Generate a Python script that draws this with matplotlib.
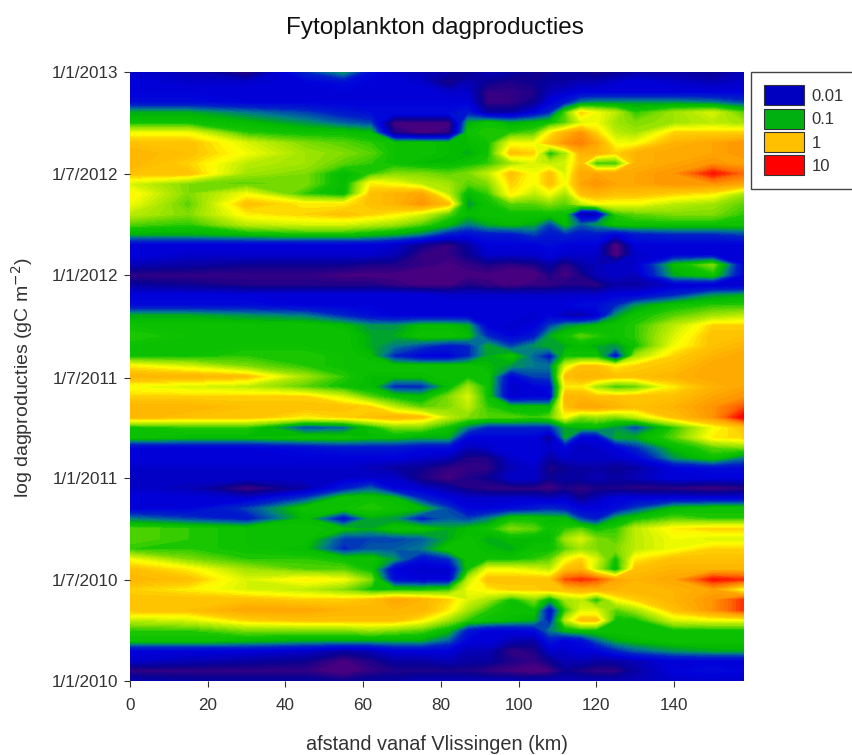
import numpy as np
import matplotlib
matplotlib.use('Agg')
import matplotlib.pyplot as plt
import matplotlib.dates as mdates
from datetime import date
from matplotlib.colors import LinearSegmentedColormap
from matplotlib.patches import Patch

plt.rcParams['font.family'] = ['Liberation Sans', 'DejaVu Sans']

afstand_km = [0, 15, 30, 45, 55, 62, 68, 75, 82, 87, 92, 98, 104, 108, 112, 116, 120, 125, 130, 140, 150, 158]

# log10 dagproductie, one row per sampling time, newest (top of plot) first
log_prod = [
    [-2.1,-2.2,-2.6,-1.7,-1.3,-1.9,-2.1,-2.2,-2.3,-2.4,-2.2,-2.3,-2.4,-2.4,-2.3,-2.4,-2.5,-2.4,-2.3,-2.3,-2.4,-2.2],
    [-2.0,-2.1,-2.1,-2.0,-1.9,-2.0,-2.0,-2.1,-2.5,-2.2,-2.4,-2.5,-2.4,-2.3,-2.3,-2.2,-2.2,-2.1,-2.0,-2.1,-2.2,-2.1],
    [-2.0,-2.0,-2.0,-2.0,-2.0,-2.0,-2.0,-2.0,-2.1,-2.1,-2.6,-2.6,-2.5,-2.2,-2.1,-2.0,-2.0,-2.0,-2.0,-2.0,-2.0,-2.0],
    [-1.9,-1.9,-2.0,-2.0,-2.0,-2.0,-2.0,-2.0,-2.0,-2.0,-2.6,-2.6,-2.4,-2.0,-1.8,-1.4,-1.3,-1.3,-1.3,-1.3,-1.4,-1.6],
    [-1.2,-1.2,-1.4,-1.6,-1.8,-1.9,-1.9,-1.9,-1.9,-1.8,-2.3,-2.3,-2.0,-1.7,-0.8,-0.1,-0.3,-0.5,-0.9,-0.6,-0.4,-0.8],
    [-1.0,-1.0,-1.1,-1.3,-1.5,-1.6,-2.7,-2.7,-2.7,-1.2,-1.0,-1.2,-1.1,-1.0,-0.8,-0.4,-0.3,-0.6,-0.7,-0.6,-0.5,-0.6],
    [-0.3,-0.3,-0.9,-1.0,-1.0,-1.1,-2.5,-2.7,-2.6,-1.0,-0.9,-0.9,-0.8,-0.2,0.1,0.3,-0.1,-0.5,-0.6,-0.1,-0.1,-0.1],
    [0.0,0.0,-0.4,-0.7,-0.8,-0.9,-1.0,-1.0,-1.1,-1.1,-1.0,-0.3,-0.3,0.0,0.3,0.4,0.2,-0.3,-0.3,0.1,0.2,0.3],
    [0.1,0.0,-0.3,-0.6,-0.7,-0.8,-1.0,-1.0,-1.1,-1.2,-1.0,0.0,-0.1,-1.0,-0.6,0.1,0.1,-0.1,0.1,0.2,0.2,0.3],
    [0.1,-0.1,-0.5,-0.6,-0.8,-0.9,-1.0,-1.1,-1.1,-1.0,-0.9,-0.6,-0.4,-0.5,-0.4,0.0,-0.9,-0.9,0.1,0.2,0.3,0.2],
    [0.0,0.0,-0.6,-0.7,-1.1,-0.9,-0.7,-0.7,-0.8,-0.7,-0.5,0.0,-0.3,0.0,-0.4,0.2,0.2,0.2,0.2,0.3,0.8,0.5],
    [-0.4,-0.7,-0.8,-0.7,-1.1,-0.2,-0.3,-0.5,-0.6,-0.8,-0.7,-0.1,-0.3,0.0,-0.3,0.2,0.3,0.2,0.2,0.3,0.3,0.2],
    [-0.2,-0.7,-0.3,-0.9,-1.1,0.0,0.1,0.2,-0.5,-1.1,-0.9,-0.2,-0.5,-0.3,-0.6,0.0,0.1,0.0,0.0,-0.1,-0.2,-0.6],
    [-0.3,-0.8,0.0,-0.2,-0.2,0.0,0.1,0.3,0.0,-1.3,-1.0,-0.8,-0.8,-0.7,-0.8,-0.5,-0.3,-0.3,-0.3,-0.5,-0.6,-0.8],
    [-0.5,-0.7,-0.2,-0.1,0.0,-0.1,-0.2,-0.4,-0.8,-1.1,-1.0,-1.0,-1.0,-1.0,-1.0,-2.3,-2.3,-0.9,-0.8,-0.7,-0.7,-0.9],
    [-0.8,-0.9,-0.5,-0.4,-0.4,-0.5,-0.6,-0.8,-1.1,-1.4,-1.2,-1.1,-1.2,-1.6,-1.1,-1.5,-1.3,-1.0,-1.0,-1.0,-1.0,-1.0],
    [-1.2,-1.2,-1.1,-1.0,-1.0,-1.1,-1.2,-1.4,-1.8,-1.9,-1.8,-1.8,-1.6,-1.8,-1.7,-1.8,-1.8,-2.0,-1.8,-1.7,-1.7,-1.6],
    [-2.0,-2.0,-2.0,-2.0,-2.0,-2.0,-2.1,-2.4,-2.6,-2.3,-2.0,-2.0,-2.0,-1.9,-2.0,-2.0,-2.0,-2.8,-2.0,-2.0,-2.0,-2.0],
    [-2.0,-2.1,-2.1,-2.1,-2.1,-2.1,-2.2,-2.6,-2.6,-2.4,-2.1,-2.1,-2.1,-2.0,-2.1,-2.1,-2.1,-2.8,-2.1,-2.0,-2.0,-2.0],
    [-2.2,-2.3,-2.4,-2.4,-2.4,-2.5,-2.5,-2.6,-2.7,-2.6,-2.5,-2.6,-2.5,-2.3,-2.6,-2.3,-2.2,-2.1,-2.1,-1.1,-0.7,-2.0],
    [-2.6,-2.6,-2.6,-2.6,-2.7,-2.7,-2.7,-2.8,-2.8,-2.7,-2.7,-2.8,-2.8,-2.5,-2.7,-2.5,-2.2,-2.1,-2.2,-1.2,-1.0,-2.0],
    [-2.3,-2.4,-2.5,-2.5,-2.5,-2.5,-2.6,-2.7,-2.7,-2.5,-2.6,-2.7,-2.6,-2.6,-2.5,-2.5,-2.6,-2.3,-2.3,-2.1,-2.1,-2.1],
    [-2.0,-2.0,-2.0,-2.0,-2.0,-2.0,-2.0,-2.0,-2.1,-2.1,-2.1,-2.1,-2.1,-2.1,-2.1,-2.1,-2.1,-2.0,-2.0,-1.7,-1.3,-1.2],
    [-1.9,-1.9,-1.9,-2.0,-2.0,-2.0,-2.0,-2.0,-2.0,-2.0,-2.0,-2.0,-2.0,-2.0,-2.0,-1.9,-1.9,-1.7,-1.3,-1.0,-0.9,-0.9],
    [-1.2,-1.2,-1.3,-1.4,-1.7,-1.9,-2.0,-2.0,-2.0,-2.0,-2.0,-2.0,-2.1,-2.0,-2.2,-2.3,-2.1,-1.3,-1.0,-0.8,-0.6,-0.5],
    [-1.0,-1.0,-1.0,-1.0,-1.1,-1.3,-1.3,-1.1,-1.1,-1.2,-2.0,-2.1,-2.0,-1.6,-1.3,-1.2,-1.1,-1.0,-0.9,-0.5,-0.1,-0.1],
    [-0.9,-1.0,-1.0,-1.0,-1.0,-1.2,-1.2,-1.0,-1.0,-1.1,-1.7,-2.0,-1.8,-1.2,-1.0,-0.8,-0.9,-1.0,-0.9,-0.4,0.0,0.0],
    [-1.0,-1.0,-1.0,-1.0,-1.0,-1.2,-1.4,-1.6,-1.8,-1.7,-1.2,-1.6,-1.3,-1.2,-1.2,-1.1,-1.2,-1.3,-1.0,-0.3,0.0,0.1],
    [-1.0,-1.0,-0.9,-0.9,-1.0,-1.1,-1.7,-2.0,-2.0,-1.7,-1.2,-1.0,-1.5,-1.8,-1.0,-1.0,-1.0,-1.9,-0.6,-0.1,0.1,0.2],
    [-0.2,-0.4,-0.7,-0.9,-1.0,-1.0,-1.0,-1.0,-1.0,-1.0,-1.1,-1.3,-1.4,-1.4,-0.4,0.0,0.0,-0.2,-0.1,0.0,0.2,0.2],
    [0.1,0.1,0.0,-0.6,-0.9,-1.1,-1.1,-1.1,-1.0,-1.0,-1.0,-2.0,-1.6,-1.6,0.0,0.1,0.1,0.0,0.0,0.1,0.2,0.2],
    [-0.3,-0.4,-0.5,-0.8,-1.0,-1.1,-1.7,-1.7,-1.1,-0.6,-1.0,-2.1,-2.0,-1.9,-0.2,-0.2,-0.6,-0.9,-0.8,-0.2,0.1,0.2],
    [-0.1,-0.1,-0.1,-0.1,-0.4,-0.8,-1.0,-1.1,-0.7,-0.4,-1.0,-2.1,-2.0,-2.0,0.1,0.1,0.0,0.0,0.0,0.0,0.2,0.3],
    [0.1,0.1,0.0,0.0,0.0,-0.1,-0.5,-0.8,-0.7,-0.5,-0.9,-1.1,-1.1,-1.1,0.0,0.2,0.2,0.1,0.0,0.1,0.3,0.6],
    [0.1,0.0,0.0,-0.2,-0.1,0.0,0.1,0.0,-0.5,-0.7,-0.8,-0.8,-0.9,-0.8,-0.3,-0.7,-0.6,-0.7,-0.5,0.0,0.3,0.9],
    [-1.0,-0.9,-0.9,-1.6,-1.5,-1.0,-0.7,-0.7,-1.0,-1.4,-1.7,-1.7,-1.7,-1.7,-1.2,-1.1,-1.1,-1.3,-1.6,-0.9,-0.3,0.0],
    [-1.0,-1.1,-1.1,-1.0,-1.0,-1.1,-1.1,-1.2,-1.2,-2.0,-2.0,-2.0,-2.0,-2.4,-1.2,-2.0,-2.0,-1.2,-1.2,-0.8,-0.2,-0.1],
    [-2.0,-2.0,-2.0,-1.9,-1.8,-1.8,-1.8,-1.9,-1.9,-2.2,-2.1,-2.0,-2.0,-2.1,-2.0,-2.2,-2.1,-2.0,-1.7,-1.1,-0.8,-0.7],
    [-2.0,-2.0,-2.0,-2.0,-2.0,-2.0,-2.0,-2.1,-2.2,-2.5,-2.5,-2.1,-2.0,-2.3,-2.1,-2.1,-2.1,-2.1,-2.0,-1.3,-1.0,-1.4],
    [-2.1,-2.1,-2.1,-2.1,-2.1,-2.2,-2.3,-2.4,-2.6,-2.6,-2.6,-2.2,-2.1,-2.5,-2.4,-2.3,-2.3,-2.4,-2.3,-2.0,-1.9,-1.9],
    [-2.1,-2.1,-2.1,-2.1,-2.1,-2.1,-2.1,-2.5,-2.7,-2.5,-2.4,-2.1,-2.1,-2.4,-2.3,-2.3,-2.2,-2.3,-2.2,-2.0,-2.0,-2.0],
    [-2.1,-2.2,-2.7,-2.3,-1.8,-1.5,-2.0,-2.1,-2.3,-2.5,-2.6,-2.6,-2.6,-2.7,-2.5,-2.6,-2.5,-2.5,-2.6,-2.6,-2.7,-2.6],
    [-2.0,-2.0,-2.1,-1.6,-1.0,-1.0,-1.1,-1.7,-2.0,-2.1,-2.1,-2.1,-2.1,-2.2,-2.1,-2.4,-2.2,-2.0,-2.0,-2.0,-2.0,-2.0],
    [-2.0,-2.0,-1.6,-1.0,-1.0,-0.9,-1.0,-1.1,-1.6,-2.0,-2.0,-1.9,-1.8,-1.7,-1.8,-2.0,-2.0,-1.9,-1.6,-1.1,-1.0,-1.0],
    [-1.4,-1.6,-1.8,-1.1,-1.9,-1.2,-1.3,-1.8,-1.5,-1.6,-1.4,-1.0,-1.0,-1.1,-1.1,-1.6,-1.8,-1.2,-1.0,-0.8,-0.9,-0.9],
    [-0.8,-0.9,-1.0,-1.0,-1.1,-1.2,-1.0,-1.0,-1.2,-1.1,-1.0,-0.7,-0.8,-1.0,-0.9,-0.8,-1.0,-0.9,-0.5,-0.2,-0.1,-0.1],
    [-0.8,-0.9,-1.0,-1.0,-1.6,-1.6,-1.6,-1.5,-1.2,-1.0,-1.2,-1.1,-1.1,-1.1,-0.6,-0.4,-0.7,-0.8,-0.5,-0.3,-0.4,-0.4],
    [-0.9,-0.9,-1.0,-1.1,-1.7,-1.5,-1.5,-1.4,-1.0,-1.0,-1.1,-1.2,-1.0,-1.0,-0.8,-0.6,-0.7,-0.7,-0.5,-0.3,-0.1,-0.1],
    [-0.3,-0.7,-0.9,-0.9,-1.0,-1.0,-1.3,-1.9,-1.7,-1.0,-1.0,-1.0,-0.9,-0.8,-0.3,-0.1,-0.4,-1.0,-0.2,0.0,0.0,0.0],
    [0.0,-0.2,-0.6,-0.8,-0.8,-1.0,-2.0,-2.1,-2.1,-1.0,-0.3,-0.3,-0.4,-0.5,0.0,0.1,-0.5,-1.1,0.0,0.1,0.1,0.1],
    [0.1,0.0,-0.4,-0.2,-0.3,-0.7,-1.9,-2.0,-2.0,-0.5,0.0,0.0,0.0,0.0,0.6,0.7,0.6,0.2,0.1,0.2,0.8,0.7],
    [-0.1,-0.2,-0.4,-0.5,-0.7,-1.0,-1.0,-1.0,-0.9,-0.3,-0.2,-0.1,-0.1,0.0,0.0,0.1,0.1,0.1,0.1,0.1,0.2,-0.4],
    [0.0,0.0,0.0,-0.1,-0.1,0.0,0.2,0.1,-0.1,-0.4,-0.6,-1.0,-0.7,-1.2,-0.6,-0.5,-1.0,-0.3,-0.1,0.1,0.3,0.7],
    [0.0,0.0,0.2,0.2,0.1,0.1,0.1,0.1,-0.2,-0.6,-0.9,-1.0,-1.0,-1.9,-0.9,-0.4,-0.4,-0.8,-0.6,0.0,0.3,0.7],
    [-0.5,-0.4,-0.1,0.0,0.0,0.0,0.0,-0.2,-0.6,-0.9,-1.0,-1.1,-1.2,-1.8,-0.5,0.0,0.0,-1.0,-1.0,-0.4,-0.3,-0.3],
    [-0.9,-0.9,-0.7,-0.7,-0.7,-0.6,-0.7,-0.8,-1.1,-1.8,-2.0,-2.0,-1.9,-1.4,-1.1,-1.0,-1.0,-1.0,-1.0,-1.0,-1.0,-1.0],
    [-1.0,-1.0,-1.1,-1.2,-1.2,-1.2,-1.2,-1.2,-1.5,-2.0,-2.0,-2.2,-2.3,-1.8,-2.0,-1.9,-1.5,-1.2,-1.1,-1.0,-1.0,-1.0],
    [-2.0,-2.0,-2.0,-2.1,-2.3,-2.2,-2.0,-2.0,-2.0,-2.2,-2.2,-2.6,-2.5,-2.1,-2.1,-2.0,-2.0,-1.7,-1.5,-1.3,-1.2,-1.2],
    [-2.1,-2.2,-2.3,-2.4,-2.7,-2.5,-2.3,-2.3,-2.2,-2.3,-2.3,-2.5,-2.6,-2.4,-2.2,-2.2,-2.3,-2.3,-2.2,-2.0,-2.0,-2.0],
    [-2.6,-2.6,-2.6,-2.6,-2.8,-2.6,-2.5,-2.5,-2.5,-2.5,-2.6,-2.7,-2.8,-2.7,-2.4,-2.5,-2.6,-2.6,-2.3,-2.0,-1.9,-2.0],
    [-2.2,-2.3,-2.3,-2.3,-2.4,-2.3,-2.3,-2.2,-2.2,-2.2,-2.2,-2.2,-2.2,-2.2,-2.2,-2.2,-2.2,-2.2,-2.2,-2.1,-2.1,-2.1],
]

tick_dates = [date(2010, 1, 1), date(2010, 7, 1), date(2011, 1, 1), date(2011, 7, 1),
              date(2012, 1, 1), date(2012, 7, 1), date(2013, 1, 1)]
tick_labels = ['1/1/2010', '1/7/2010', '1/1/2011', '1/7/2011', '1/1/2012', '1/7/2012', '1/1/2013']
x_ticks = [0, 20, 40, 60, 80, 100, 120, 140]

legend_labels = ['0.01', '0.1', '1', '10']
legend_colors = ['#0000c0', '#00b010', '#ffc000', '#ff0000']

z = np.array(log_prod)[::-1]
tick_nums = mdates.date2num(tick_dates)
y = np.linspace(tick_nums[0], tick_nums[-1], z.shape[0])

# colour stops on the log10 scale, mapped to 0-1 below
vmin, vmax = -3.0, 1.0
stops = [(-3.0, '#4b0082'), (-2.7, '#47007f'), (-2.4, '#0a0090'), (-2.0, '#0000dc'), (-1.7, '#0020c8'),
         (-1.4, '#007890'), (-1.15, '#00b800'), (-0.95, '#10c400'), (-0.7, '#80dc00'), (-0.45, '#c8f000'),
         (-0.25, '#ffff00'), (-0.05, '#ffc800'), (0.2, '#ffa800'), (0.5, '#ff7000'), (0.85, '#ff0000'),
         (1.0, '#ff0000')]
cmap = LinearSegmentedColormap.from_list('dagprod', [((v - vmin) / (vmax - vmin), c) for v, c in stops])

fig = plt.figure(figsize=(8.53, 7.55), dpi=100)
ax = fig.add_axes([130 / 853, 1 - 681 / 755, 614 / 853, 609 / 755])

ax.contourf(afstand_km, y, z, levels=np.linspace(vmin, vmax, 81), cmap=cmap, vmin=vmin, vmax=vmax, extend='both')

ax.set_xlim(0, 158)
ax.set_ylim(tick_nums[0], tick_nums[-1])
ax.set_xticks(x_ticks)
ax.set_yticks(tick_nums)
ax.set_yticklabels(tick_labels)
ax.tick_params(labelsize=12.3, colors='#333333', length=4.5, width=0.8, pad=4)
ax.tick_params(axis='x', pad=8)
for s in ax.spines.values():
    s.set_visible(False)

fig.text(435 / 853, 1 - 28 / 755, 'Fytoplankton dagproducties', ha='center', va='center', fontsize=17.5, color='#111111')
fig.text(437 / 853, 1 - 745 / 755, 'afstand vanaf Vlissingen (km)', ha='center', va='center', fontsize=14.3, color='#333333')
fig.text(22 / 853, 1 - 378 / 755, 'log dagproducties (gC m$^{-2}$)', rotation=90, ha='center', va='center',
         fontsize=14, color='#333333')

handles = [Patch(facecolor=c, edgecolor='#333333', linewidth=0.8, label=l) for c, l in zip(legend_colors, legend_labels)]
leg = fig.legend(handles=handles, loc='upper left', bbox_to_anchor=(751 / 853, 1 - 72 / 755), bbox_transform=fig.transFigure,
                 fontsize=12, frameon=True, fancybox=False, edgecolor='#444444', framealpha=1, borderaxespad=0,
                 borderpad=0.8, handlelength=2.4, handleheight=1.47, labelspacing=0.2, handletextpad=0.45)
leg.get_frame().set_linewidth(1.0)
for t in leg.get_texts():
    t.set_color('#333333')

fig.savefig('out.png', dpi=100)
